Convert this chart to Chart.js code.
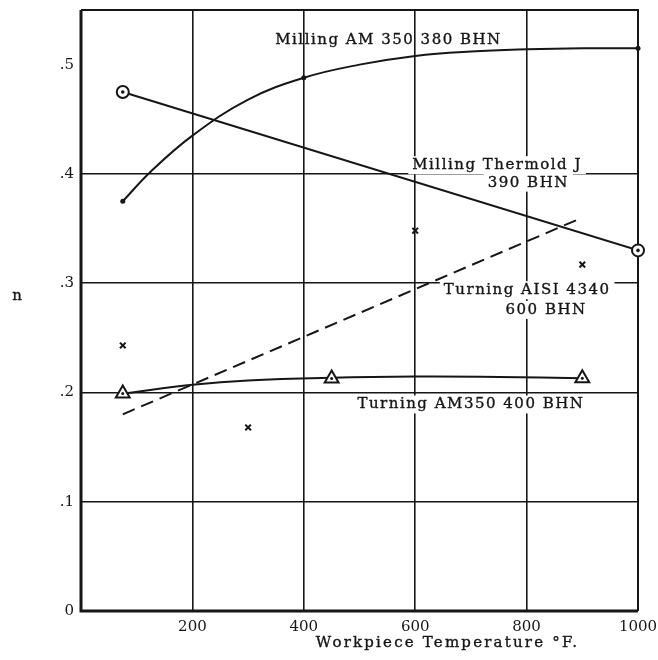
<!DOCTYPE html>
<html>
<head>
<meta charset="utf-8">
<script src="https://cdn.jsdelivr.net/npm/chart.js@4.4.1/dist/chart.umd.min.js"></script>
<style>
  html, body { margin: 0; padding: 0; background: #fff; }
  #wrap { width: 658px; height: 660px; }
</style>
</head>
<body>
<div id="wrap"><canvas id="c" width="658" height="660"></canvas></div>
<script>
// axis ticks
const xTicks = [200, 400, 600, 800, 1000];
const yTicks = [0, 0.1, 0.2, 0.3, 0.4, 0.5];
const yTickLabels = ['0', '.1', '.2', '.3', '.4', '.5'];

const millAmTemp = [75, 125, 200, 300, 400, 500, 600, 700, 800, 900, 1000];
const millAmN = [0.375, 0.402, 0.435, 0.468, 0.488, 0.500, 0.508, 0.512, 0.514, 0.515, 0.515];
const millAmPtTemp = [75, 400, 1000];
const millAmPtN = [0.375, 0.488, 0.515];

// Milling Thermold J 390 BHN
const millThTemp = [75, 1000];
const millThN = [0.475, 0.33];

// Turning AISI 4340 600 BHN (dashed fit + x points)
const turn4340Temp = [75, 900];
const turn4340N = [0.18, 0.36];
const turn4340PtTemp = [75, 300, 600, 900];
const turn4340PtN = [0.243, 0.168, 0.348, 0.317];

// Turning AM350 400 BHN
const turnAmTemp = [75, 200, 300, 450, 600, 750, 900];
const turnAmN = [0.199, 0.207, 0.211, 0.2135, 0.2145, 0.2142, 0.213];
const turnAmPtTemp = [75, 450, 900];
const turnAmPtN = [0.199, 0.2127, 0.213];

const INK = '#161616';
const FONT = '"DejaVu Serif", serif';

const pts = (xs, ys) => xs.map((x, i) => ({ x: x, y: ys[i] }));

// text on the plot, placed in data coordinates
const notes = [
    { text: 'Milling AM 350 380 BHN', x: 552, y: 0.522, box: false },
    { text: 'Milling Thermold J', x: 747, y: 0.408, box: true },
    { text: '390 BHN', x: 803, y: 0.392, box: true },
    { text: 'Turning AISI 4340', x: 801, y: 0.2936, box: true },
    { text: '600 BHN', x: 835, y: 0.2755, box: true },
    { text: 'Turning AM350 400 BHN', x: 700, y: 0.189, box: true }
];

// slightly heavier text, like the scanned print
function inkText(ctx, s, x, y) {
    ctx.fillText(s, x, y);
    ctx.lineWidth = 0.35;
    ctx.strokeStyle = INK;
    ctx.strokeText(s, x, y);
}

const decor = {
    id: 'decor',
    beforeDatasetsDraw(chart) {
        const { ctx, chartArea: a } = chart;
        ctx.save();
        ctx.strokeStyle = INK;
        ctx.lineWidth = 2;
        ctx.beginPath();
        ctx.moveTo(a.left, a.top); ctx.lineTo(a.right, a.top); ctx.lineTo(a.right, a.bottom);
        ctx.stroke();
        ctx.lineWidth = 3;
        ctx.beginPath();
        ctx.moveTo(a.left, a.top); ctx.lineTo(a.left, a.bottom); ctx.lineTo(a.right, a.bottom);
        ctx.stroke();
        ctx.restore();
    },
    afterDraw(chart) {
        const { ctx, chartArea: a, scales } = chart;
        ctx.save();
        ctx.font = '15px ' + FONT;
        ctx.letterSpacing = '1.5px';
        ctx.textAlign = 'center';
        ctx.textBaseline = 'middle';
        notes.forEach(n => {
            const px = scales.x.getPixelForValue(n.x);
            const py = scales.y.getPixelForValue(n.y);
            const w = ctx.measureText(n.text).width;
            if (n.box) {
                ctx.fillStyle = '#fff';
                ctx.fillRect(px - w / 2 - 4, py - 9, w + 8, 18);
            }
            ctx.fillStyle = INK;
            inkText(ctx, n.text, px, py);
        });
        // axis titles
        ctx.letterSpacing = '0px';
        inkText(ctx, 'n', 17, scales.y.getPixelForValue(0.288));
        ctx.letterSpacing = '2.2px';
        ctx.font = '15px ' + FONT;
        inkText(ctx, 'Workpiece Temperature °F.', scales.x.getPixelForValue(658), a.bottom + 32);
        ctx.restore();
    }
};

new Chart(document.getElementById('c'), {
    type: 'scatter',
    data: {
        datasets: [
            // markers on top
            { data: pts(millAmPtTemp, millAmPtN), pointStyle: 'circle', pointRadius: 2.5, backgroundColor: INK, borderColor: INK, borderWidth: 0, clip: false },
            { data: pts(millThTemp, millThN), pointStyle: 'circle', pointRadius: 1.8, backgroundColor: INK, borderColor: INK, borderWidth: 0, clip: false },
            { data: pts(millThTemp, millThN), pointStyle: 'circle', pointRadius: 6, backgroundColor: '#fff', borderColor: INK, borderWidth: 2, clip: false },
            { data: pts(turnAmPtTemp, turnAmPtN), pointStyle: 'circle', pointRadius: 1.5, backgroundColor: INK, borderColor: INK, borderWidth: 0 },
            { data: pts(turnAmPtTemp, turnAmPtN), pointStyle: 'triangle', pointRadius: 8, backgroundColor: '#fff', borderColor: INK, borderWidth: 2 },
            { data: pts(turn4340PtTemp, turn4340PtN), pointStyle: 'crossRot', pointRadius: 4, borderColor: INK, borderWidth: 2 },
            // lines
            { data: pts(millAmTemp, millAmN), showLine: true, tension: 0.4, pointRadius: 0, borderColor: INK, borderWidth: 2 },
            { data: pts(millThTemp, millThN), showLine: true, pointRadius: 0, borderColor: INK, borderWidth: 2 },
            { data: pts(turn4340Temp, turn4340N), showLine: true, pointRadius: 0, borderColor: INK, borderWidth: 2, borderDash: [13, 7] },
            { data: pts(turnAmTemp, turnAmN), showLine: true, tension: 0.4, pointRadius: 0, borderColor: INK, borderWidth: 2 }
        ]
    },
    options: {
        responsive: false,
        animation: false,
        layout: { padding: { left: 0, right: 20, top: 6, bottom: 0 } },
        plugins: { legend: { display: false }, tooltip: { enabled: false } },
        scales: {
            x: {
                type: 'linear', min: 0, max: 1000,
                afterBuildTicks: s => { s.ticks = xTicks.map(v => ({ value: v })); },
                afterFit: s => { s.height = 49; s.paddingLeft = 0; s.paddingRight = 0; },
                border: { display: false },
                grid: {
                    drawTicks: false, lineWidth: 1.6,
                    color: c => (c.tick && c.tick.value === 1000) ? 'rgba(0,0,0,0)' : INK
                },
                ticks: { color: INK, padding: 7, font: { family: FONT, size: 15 }, callback: v => String(v) }
            },
            y: {
                type: 'linear', min: 0, max: 0.55,
                afterBuildTicks: s => { s.ticks = yTicks.map(v => ({ value: v })); },
                afterFit: s => { s.width = 81; s.paddingTop = 0; s.paddingBottom = 0; },
                border: { display: false },
                grid: {
                    drawTicks: false, lineWidth: 1.6,
                    color: c => (c.tick && (c.tick.value === 0 || c.tick.value === 0.5)) ? 'rgba(0,0,0,0)' : INK
                },
                ticks: {
                    color: INK, padding: 7, font: { family: FONT, size: 15 },
                    callback: (v, i) => yTickLabels[i]
                }
            }
        }
    },
    plugins: [decor]
});
</script>
</body>
</html>
